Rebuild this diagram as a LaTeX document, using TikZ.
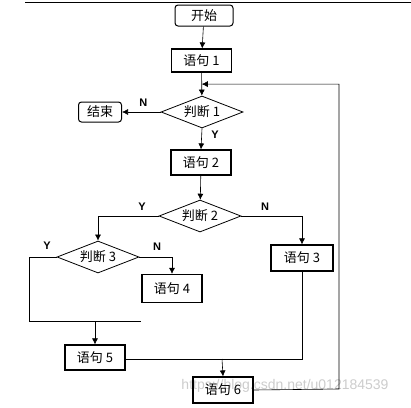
\documentclass[tikz,border=0pt]{standalone}
\usepackage{fontspec}
\newfontfamily\cjk{Noto Sans CJK SC}
\newfontfamily\lat{Liberation Sans}
\usetikzlibrary{shapes.geometric,arrows.meta,calc}
\tikzset{
  stepbox/.style={draw, line width=1.2pt, minimum width=60pt, minimum height=25pt, inner sep=0pt},
  termbox/.style={draw, rounded corners=3pt, line width=1pt, minimum height=21pt, inner sep=0pt},
  testbox/.style={draw, diamond, aspect=2.6, minimum width=82pt, minimum height=32pt, inner sep=0pt, line width=0.8pt},
  flow/.style={line width=0.6pt},
  arr/.style={flow, -{Latex[length=6pt,width=6pt]}},
  yn/.style={font=\lat\bfseries\fontsize{11}{13}\selectfont}
}
\begin{document}
\begin{tikzpicture}[x=1pt,y=-1pt,font=\cjk\fontsize{13}{15}\selectfont]
\useasboundingbox (0,0) rectangle (411,407);
\draw[flow] (25,2) -- (411,2); % rule at the top

% watermark, under everything else
\node[font=\lat\fontsize{14}{16}\selectfont, text=gray!40] (wm) at (285,386) {https://blog.csdn.net/u012184539};

% terminals, steps and tests
\node[termbox, minimum width=58pt] (start) at (204,15.5) {开始};
\node[stepbox, minimum height=23pt] (s1) at (201.5,60.5) {语句 1};
\node[testbox] (d1) at (202,112) {判断 1};
\node[termbox, minimum width=43pt, minimum height=20pt] (end) at (100,112) {结束};
\node[stepbox] (s2) at (201,162.5) {语句 2};
\node[testbox] (d2) at (200,216) {判断 2};
\node[testbox] (d3) at (98,257) {判断 3};
\node[stepbox, minimum height=28pt] (s4) at (172,288.5) {语句 4};
\node[stepbox, minimum width=62pt, minimum height=26pt] (s3) at (302,258) {语句 3};
\node[stepbox] (s5) at (95,357.5) {语句 5};
\node[stepbox, minimum height=26pt] (s6) at (223,390) {语句 6};

% join points
\coordinate (c1) at ($(s1.south)!0.5!(d1.north)$);
\coordinate (c3) at (29,321);
\coordinate (c4) at (141,321);
\coordinate (c5) at (302,359);
\coordinate (c6) at (339,389);

% connectors
\draw[arr] (start) -- (s1);
\draw[arr] (s1) -- (d1);
\draw[arr] (d1.west) -- (end.east) node[yn, pos=0.45, above=2pt] {N};
\draw[arr] (d1.south) -- (s2.north) node[yn, pos=0.3, right=6pt] {Y};
\draw[arr] (s2) -- (d2);
\draw[arr] (d2.west) -| (d3.north);
\node[yn] (y2) at (142,207) {Y};
\draw[arr] (d2.east) -| (s3.north);
\node[yn] (n2) at (265,207) {N};
\draw[arr] (d3.east) -| (s4.north);
\node[yn] (n3) at (157,247) {N};
\draw[flow] (d3.west) -| (c3) -- (c4);
\node[yn] (y3) at (47,246) {Y};
\draw[arr] (95,321) -- (s5.north);
\draw[flow] (s3.south) -- (c5) -- (s5.east |- c5);
\draw[arr] (222,359) -- (s6.north);
\draw[arr] (s6.east) -- (c6) -- (c6 |- c1) -- (c1);
\end{tikzpicture}
\end{document}
